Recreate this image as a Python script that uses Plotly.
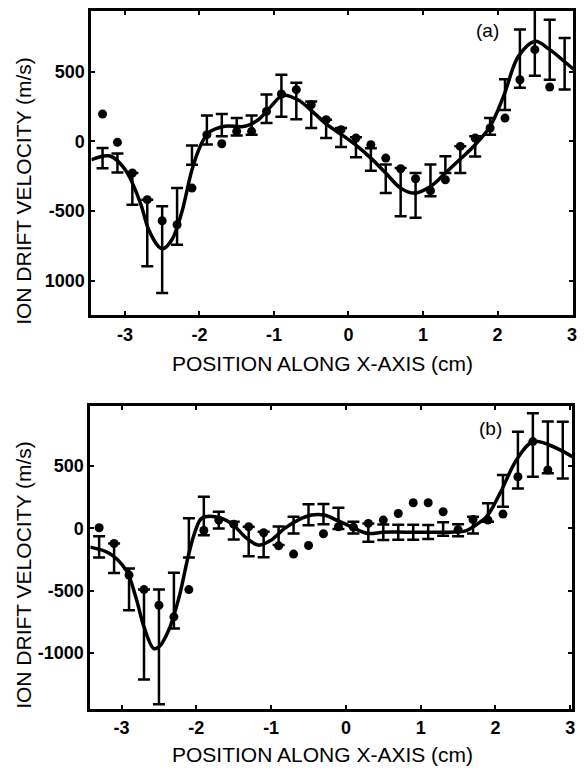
import plotly.graph_objects as go

# ---------------- data ----------------
x_pts = [-3.3, -3.1, -2.9, -2.7, -2.5, -2.3, -2.1, -1.9, -1.7, -1.5, -1.3, -1.1,
         -0.9, -0.7, -0.5, -0.3, -0.1, 0.1, 0.3, 0.5, 0.7, 0.9, 1.1, 1.3,
         1.5, 1.7, 1.9, 2.1, 2.3, 2.5, 2.7, 2.9]

# panel (a)
a_bar_y = [-120, -155, -340, -657, -777, -538, -98, 81, 117, 105, 117, 234,
           327, 290, 191, 90, 28, -42, -130, -268, -363, -387, -280, -167,
           -131, -36, 108, 335, 593, 720, 657, 557]
a_bar_err = [72, 68, 114, 239, 311, 203, 69, 104, 80, 63, 69, 102,
             150, 131, 95, 66, 68, 72, 80, 102, 173, 161, 114, 60,
             96, 72, 60, 110, 209, 250, 215, 185]
a_dot_y = [196, -7, -227, -418, -569, -598, -335, 48, -17, 72, 72, 215,
           340, 371, 263, 155, 84, 24, -24, -120, -196, -268, -354, -275,
           -36, 24, 96, 167, 442, 658, 390, None]
a_fit_x = [-3.45, -3.2, -3.0, -2.8, -2.68, -2.55, -2.49, -2.37, -2.24, -2.1, -1.99,
           -1.88, -1.66, -1.39, -1.21, -1.04, -0.88, -0.68, -0.46, -0.3, -0.06,
           0.12, 0.3, 0.5, 0.7, 0.88, 1.1, 1.3, 1.5, 1.7, 1.9, 2.08, 2.28, 2.5,
           2.7, 2.92, 3.03]
a_fit_y = [-131, -105, -200, -430, -634, -753, -770, -705, -514, -203, -36,
           60, 108, 108, 155, 251, 330, 299, 203, 125, 36,
           -36, -120, -227, -335, -371, -323, -227, -127, -24, 108, 323, 610, 717,
           658, 562, 514]

# panel (b)
b_bar_y = [-148, -239, -489, -852, -951, -580, -76, 100, 67, -17, -105, -129,
           -59, 27, 110, 115, 80, 6, -34, -30, -30, -30, -28, -5,
           -14, 27, 128, 302, 549, 669, 650, 629]
b_bar_err = [86, 118, 168, 362, 460, 224, 157, 154, 67, 71, 118, 103,
             74, 67, 85, 82, 85, 47, 74, 62, 60, 60, 56, 54,
             48, 67, 74, 127, 228, 255, 208, 228]
b_dot_y = [5, -121, -375, -491, -617, -710, -491, -17, 67, 34, 13, -35,
           -140, -206, -137, -43, 13, 10, 40, 67, 120, 206, 206, 134,
           -10, 72, 67, 115, 415, 697, 469, None]
b_fit_x = [-3.42, -3.16, -2.94, -2.81, -2.70, -2.57, -2.50, -2.37, -2.23, -2.10,
           -2.01, -1.93, -1.75, -1.53, -1.35, -1.17, -1.0, -0.82, -0.64, -0.46,
           -0.29, -0.1, 0.07, 0.29, 0.5, 0.8, 1.1, 1.4, 1.6, 1.7, 1.88, 2.06,
           2.28, 2.5, 2.72, 3.03]
b_fit_y = [-150, -201, -335, -550, -791, -965, -952, -818, -550, -201,
           -14, 80, 94, 40, -67, -134, -94, 0, 67, 107,
           107, 60, 13, -40, -30, -30, -30, -30, -20, 13, 94, 281,
           549, 697, 670, 576]

y_tickvals = [500, 0, -500, -1000]
a_ticktext = ["500", "0", "-500", "1000"]
b_ticktext = ["500", "0", "-500", "-1000"]
x_tickvals = [-3, -2, -1, 0, 1, 2, 3]
x_ticktext = ["-3", "-2", "-1", "0", "1", "2", "3"]

# ---------------- figure ----------------
W, H = 584, 770
FONT = "Liberation Sans, Arial, Helvetica, sans-serif"
fig = go.Figure()

def add_panel(xa, ya, bar_y, bar_err, dot_y, fit_x, fit_y):
    fig.add_trace(go.Scatter(
        x=x_pts, y=bar_y, mode="markers", xaxis=xa, yaxis=ya,
        marker=dict(size=2, color="black"),
        error_y=dict(type="data", array=bar_err, visible=True,
                     color="black", thickness=2.5, width=6),
        showlegend=False, cliponaxis=True))
    fig.add_trace(go.Scatter(
        x=fit_x, y=fit_y, mode="lines", xaxis=xa, yaxis=ya,
        line=dict(color="black", width=3.5, shape="spline", smoothing=1.0),
        showlegend=False))
    fig.add_trace(go.Scatter(
        x=x_pts, y=dot_y, mode="markers", xaxis=xa, yaxis=ya,
        marker=dict(size=9, color="black", symbol="circle"),
        showlegend=False))

add_panel("x", "y", a_bar_y, a_bar_err, a_dot_y, a_fit_x, a_fit_y)
add_panel("x2", "y2", b_bar_y, b_bar_err, b_dot_y, b_fit_x, b_fit_y)

tickfont = dict(family=FONT, size=18, color="black", weight="bold")
common_x = dict(tickvals=x_tickvals, ticktext=x_ticktext, ticks="inside",
                ticklen=4, tickwidth=2, tickcolor="black", showline=True,
                linecolor="black", linewidth=3, mirror="ticks", showgrid=False,
                zeroline=False, tickfont=tickfont)
common_y = dict(tickvals=y_tickvals, ticks="inside", ticklen=4, tickwidth=2,
                tickcolor="black", showline=True, linecolor="black", linewidth=3,
                mirror="ticks", showgrid=False, zeroline=False, tickfont=tickfont)

fig.update_layout(
    width=W, height=H, margin=dict(l=0, r=0, t=0, b=0),
    paper_bgcolor="white", plot_bgcolor="white",
    xaxis=dict(common_x, range=[-3.45, 3.013], domain=[92 / W, 577 / W],
               anchor="y", ticklabelstandoff=1),
    yaxis=dict(common_y, ticktext=a_ticktext, range=[-1245, 935],
               domain=[1 - 315 / H, 1 - 11 / H], anchor="x"),
    xaxis2=dict(common_x, range=[-3.417, 3.024], domain=[91 / W, 576 / W],
                anchor="y2", ticklabelstandoff=0),
    yaxis2=dict(common_y, ticktext=b_ticktext, range=[-1450, 983],
                domain=[1 - 709 / H, 1 - 406 / H], anchor="x2"),
)

ann_font = dict(family=FONT, size=21, color="black")
annotations = [
    dict(text="ION DRIFT VELOCITY (m/s)", x=23 / W, y=1 - 191 / H, textangle=-90),
    dict(text="ION DRIFT VELOCITY (m/s)", x=23 / W, y=1 - 575 / H, textangle=-90),
    dict(text="POSITION ALONG X-AXIS (cm)", x=325 / W, y=1 - 363 / H),
    dict(text="POSITION ALONG X-AXIS (cm)", x=325 / W, y=1 - 754 / H),
    dict(text="(a)", x=491 / W, y=1 - 30 / H, font=dict(family=FONT, size=19, color="black")),
    dict(text="(b)", x=494 / W, y=1 - 428 / H, font=dict(family=FONT, size=19, color="black")),
]
for a in annotations:
    a.setdefault("font", ann_font)
    a.update(xref="paper", yref="paper", showarrow=False, xanchor="center", yanchor="middle")
fig.update_layout(annotations=annotations)

fig.write_html("out.html")
